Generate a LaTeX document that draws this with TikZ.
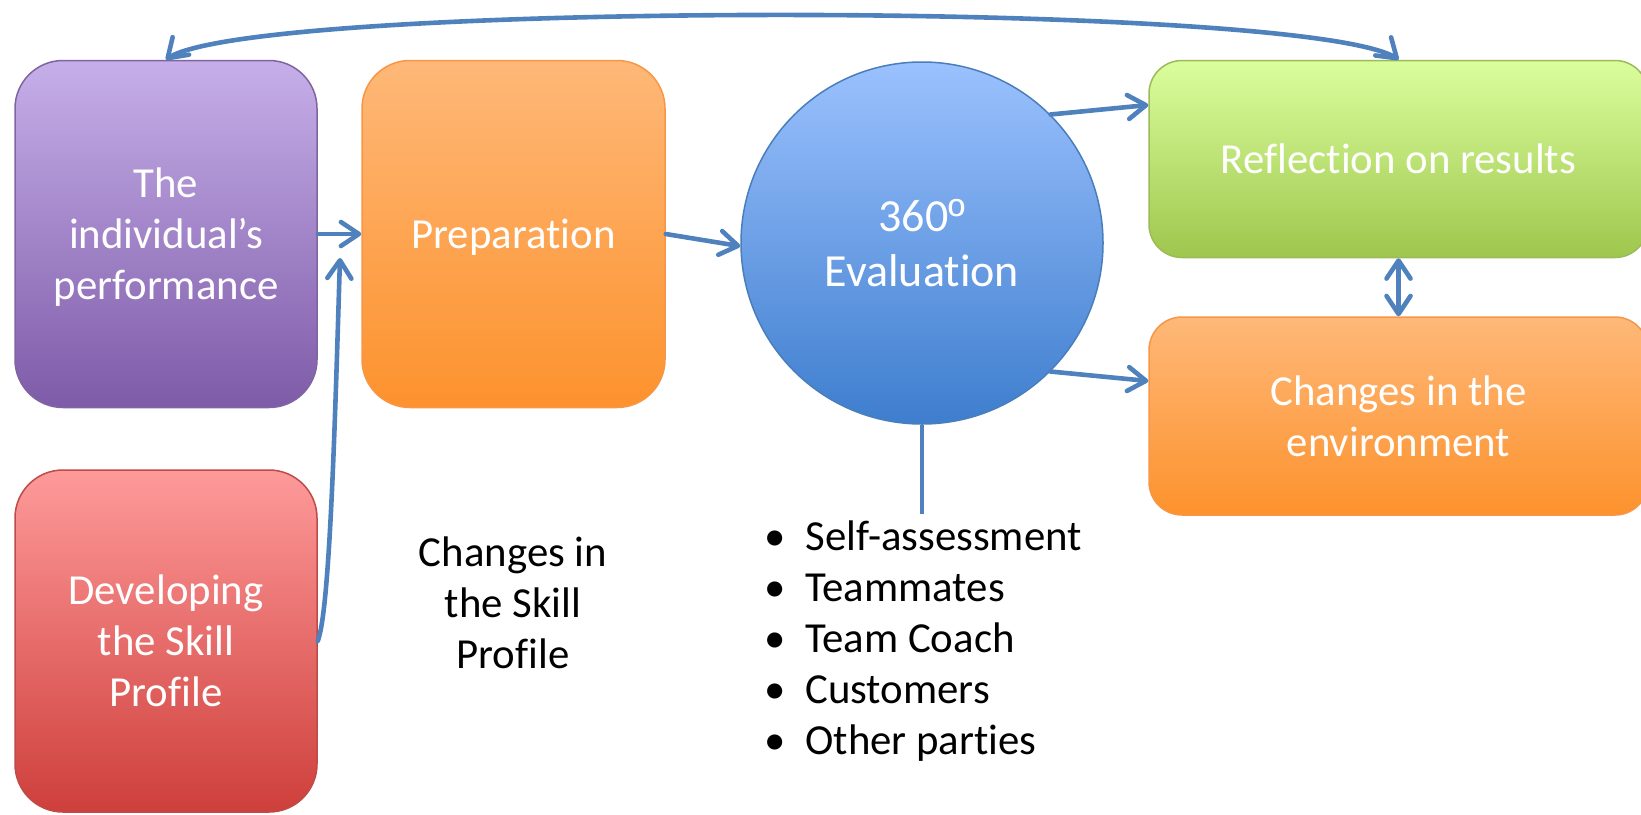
\documentclass[tikz,border=0pt]{standalone}
\usepackage{fontspec}
\setmainfont{Carlito}[RawFeature={-liga;-rlig;-clig;-calt}]
\newfontfamily\ordfont{Liberation Sans}
\usetikzlibrary{arrows.meta,calc,bending}

\definecolor{linkblue}{HTML}{4F81BD}
\definecolor{purpTop}{HTML}{C6AFE9}
\definecolor{purpMid}{HTML}{B19ADA}
\definecolor{purpBot}{HTML}{7E5BA8}
\definecolor{purpLine}{HTML}{7F64A1}
\definecolor{redTop}{HTML}{FE9A9A}
\definecolor{redMid}{HTML}{EF8583}
\definecolor{redBot}{HTML}{CE3F3B}
\definecolor{redLine}{HTML}{BE4B48}
\definecolor{orTop}{HTML}{FEB878}
\definecolor{orMid}{HTML}{FDA95B}
\definecolor{orBot}{HTML}{FD922D}
\definecolor{orLine}{HTML}{F79646}
\definecolor{grTop}{HTML}{DBFE9D}
\definecolor{grMid}{HTML}{C6E586}
\definecolor{grBot}{HTML}{9FC64D}
\definecolor{grLine}{HTML}{9BBB59}
\definecolor{blTop}{HTML}{9BC1FE}
\definecolor{blMid}{HTML}{74A2EA}
\definecolor{blBot}{HTML}{3E7ECE}
\definecolor{blLine}{HTML}{4A7EBB}

\newcommand\boxtxt{\fontsize{21.4}{25.5}\selectfont}
\newcommand\evaltxt{\fontsize{23}{27.5}\selectfont}
% line-box struts so that text is centred on full line height
\newcommand\hi{\rule{0pt}{0.952em}}
\newcommand\lo{\rule[-0.269em]{0pt}{0.269em}}

\tikzset{
  stagebox/.style={draw, line width=0.75pt, align=center, text=white,
    font=\boxtxt, inner sep=0pt},
  purplebox/.style={stagebox, draw=purpLine, top color=purpTop, middle color=purpMid, bottom color=purpBot},
  redbox/.style={stagebox, draw=redLine, top color=redTop, middle color=redMid, bottom color=redBot},
  orangebox/.style={stagebox, draw=orLine, top color=orTop, middle color=orMid, bottom color=orBot},
  greenbox/.style={stagebox, draw=grLine, top color=grTop, middle color=grMid, bottom color=grBot},
  link/.style={draw=linkblue, line width=2.3pt, line cap=round,
    -{Straight Barb[length=9pt,width=12pt,line cap=round,line join=round]}},
  twolink/.style={link, {Straight Barb[length=9pt,width=12pt,line cap=round,line join=round]}-{Straight Barb[length=9pt,width=12pt,line cap=round,line join=round]}},
}

\begin{document}
\begin{tikzpicture}[x=0.5pt,y=-0.5pt]
\useasboundingbox (0,0) rectangle (1641,814);

% stage boxes
\node[purplebox, minimum width=151pt, minimum height=173.5pt, rounded corners=24pt]
  (perf) at (166,234) {\hi The\\individual’s\\performance\lo};
\node[redbox, minimum width=151pt, minimum height=171pt, rounded corners=24pt]
  (dev) at (166,641) {\hi Developing\\the Skill\\Profile\lo};
\node[orangebox, minimum width=151.5pt, minimum height=173.5pt, rounded corners=24pt]
  (prep) at (513.5,234) {\hi Preparation\lo};
\node[circle, draw=blLine, line width=0.75pt, top color=blTop, middle color=blMid, bottom color=blBot,
  minimum size=181pt, inner sep=0pt, align=center, text=white, font=\evaltxt]
  (ev) at (922,243) {\hi 360{\ordfont º}\\Evaluation\lo};
\node[greenbox, minimum width=249.5pt, minimum height=98.5pt, rounded corners=16.5pt]
  (refl) at (1398.5,159) {\hi Reflection on results\lo};
\node[orangebox, minimum width=249.5pt, minimum height=99pt, rounded corners=16.5pt]
  (env) at (1398.5,416) {\hi Changes in the\\environment\lo};

% free text
\node[align=center, font=\boxtxt, inner sep=0pt] (chg) at (513,603) {\hi Changes in\\the Skill\\Profile\lo};
\node[anchor=north west, inner sep=0pt, font=\boxtxt] (list) at (764,514) {%
  \begin{tabular}{@{}l@{}}
  \makebox[20.5pt][l]{\textbullet}Self-assessment\\
  \makebox[20.5pt][l]{\textbullet}Teammates\\
  \makebox[20.5pt][l]{\textbullet}Team Coach\\
  \makebox[20.5pt][l]{\textbullet}Customers\\
  \makebox[20.5pt][l]{\textbullet}Other parties
  \end{tabular}};

% connectors
\coordinate (join) at (340,258);
\draw[link] (perf.east) -- (prep.west);
\draw[link] (dev.east) .. controls (330,610) and (335,420) .. (join);
\draw[link] (prep.east) -- (ev.181);
\draw[link] (ev.45) -- ($(refl.west)+(0,-54)$);
\draw[link] (ev.-45) -- ($(env.west)+(0,-35)$);
\draw[twolink] (refl.south) -- (env.north);
\draw[twolink] (refl.north) .. controls (1330,0) and (230,0) .. (perf.north);
\draw[draw=linkblue, line width=2.3pt] (ev.south) -- (ev.south |- list.north);
\end{tikzpicture}
\end{document}
